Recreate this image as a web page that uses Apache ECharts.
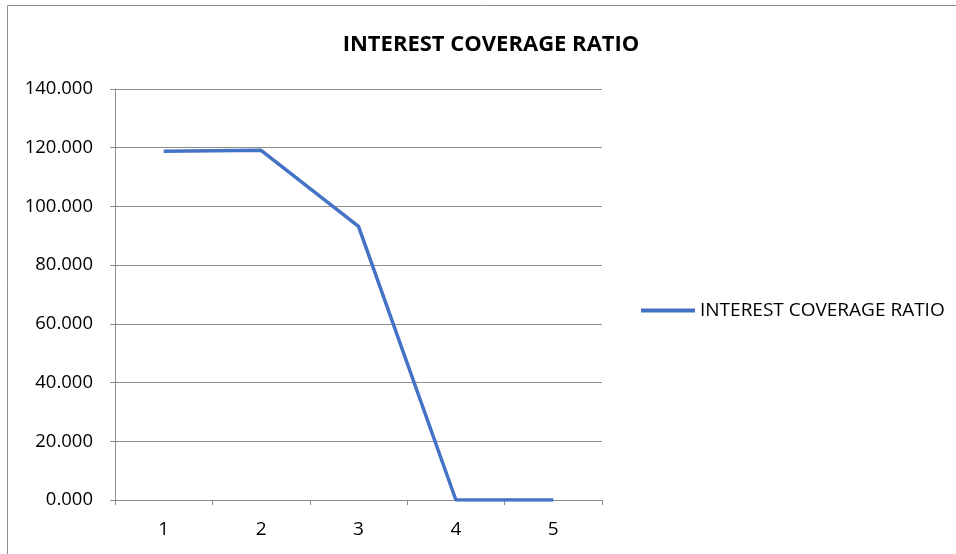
<!DOCTYPE html>
<html>
<head>
<meta charset="utf-8">
<script src="https://cdn.jsdelivr.net/npm/echarts@6/dist/echarts.min.js"></script>
<style>
  html, body { margin: 0; padding: 0; background: #fff; }
  #chart { width: 956px; height: 554px; }
</style>
</head>
<body>
<div id="chart"></div>
<script>
// chart data
var categories = ['1', '2', '3', '4', '5'];
var ratioValues = [118.8, 119.1, 93.2, 0, 0];
var seriesName = 'INTEREST COVERAGE RATIO';

var fontFamily = '"Open Sans", Lato, sans-serif';

var chart = echarts.init(document.getElementById('chart'));

option = {
    animation: false,
    backgroundColor: '#fff',
    textStyle: { fontFamily: fontFamily },
    title: {
        text: 'INTEREST COVERAGE RATIO',
        left: 486,
        top: 29,
        textAlign: 'center',
        textStyle: { fontFamily: fontFamily, fontSize: 22, fontWeight: 'bold', color: '#000' }
    },
    graphic: [{
        type: 'rect',
        shape: { x: 7.5, y: 5.5, width: 1000, height: 1000 },
        style: { fill: 'none', stroke: '#8c8c8c', lineWidth: 1 },
        silent: true
    }],
    legend: {
        data: [seriesName],
        left: 636,
        top: 296,
        icon: 'rect',
        itemWidth: 54,
        itemHeight: 4,
        textStyle: { fontFamily: fontFamily, fontSize: 19, color: '#000' }
    },
    grid: {
        left: 115,
        right: 354,
        top: 89,
        bottom: 54
    },
    xAxis: {
        type: 'category',
        data: categories,
        boundaryGap: true,
        axisLine: { lineStyle: { color: '#8c8c8c', width: 1 } },
        axisTick: { show: true, length: 5, lineStyle: { color: '#8c8c8c' } },
        axisLabel: { color: '#000', fontSize: 19, margin: 20 }
    },
    yAxis: {
        type: 'value',
        min: 0,
        max: 140,
        interval: 20,
        axisLine: { show: true, lineStyle: { color: '#8c8c8c', width: 1 } },
        axisTick: { show: true, length: 5, lineStyle: { color: '#8c8c8c' } },
        splitLine: { lineStyle: { color: '#8c8c8c', width: 1 } },
        axisLabel: {
            color: '#000',
            fontSize: 18.5,
            margin: 22,
            formatter: function(v) { return v.toFixed(3); }
        }
    },
    series: [{
        name: seriesName,
        type: 'line',
        data: ratioValues,
        showSymbol: false,
        symbol: 'none',
        itemStyle: { color: '#4472C4' },
        lineStyle: { color: '#4472C4', width: 3.5 }
    }]
};

chart.setOption(option);
</script>
</body>
</html>
